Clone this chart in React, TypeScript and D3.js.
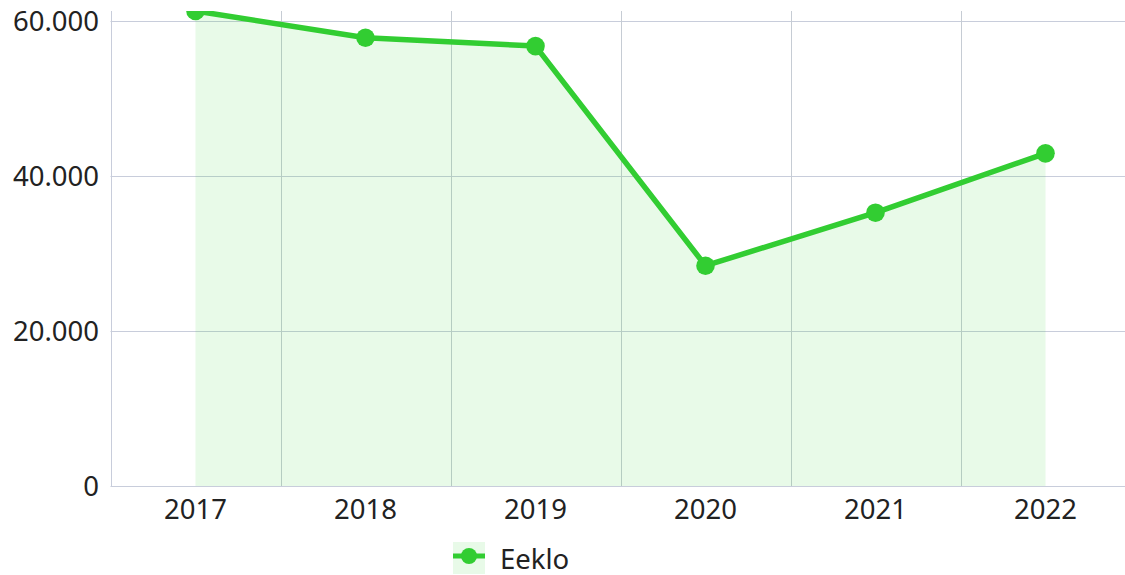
import React from 'react';
import * as d3 from 'd3';

const years = ['2017', '2018', '2019', '2020', '2021', '2022'];
const eeklo = [61300, 57850, 56770, 28430, 35270, 42930];
const yTicks = [0, 20000, 40000, 60000];
const seriesName = 'Eeklo';

const W = 1125;
const H = 575;
const left = 110.5;
const top = 11;
const bottom = 486;
const bandW = 170;

const green = '#32cd32';
const fillGreen = 'rgba(50, 205, 50, 0.11)';
const gridColor = '#c8cddb';
const font = '"Noto Sans", "Open Sans", sans-serif';

const fmt = (v: number) => d3.format(',')(v).replace(/,/g, '.');

const App: React.FC = () => {
  const x = d3.scaleBand<string>().domain(years).range([left, left + bandW * years.length]);
  const y = d3.scaleLinear().domain([0, d3.max(eeklo) as number]).range([bottom, top]);
  const cx = (i: number) => (x(years[i]) as number) + x.bandwidth() / 2;

  const line = d3.line<number>().x((_, i) => cx(i)).y(d => y(d));
  const area = d3.area<number>().x((_, i) => cx(i)).y0(bottom).y1(d => y(d));

  return (
    <svg width={W} height={H} style={{ position: 'absolute', left: 0, top: 0, background: '#fff' }}>
      <defs>
        <clipPath id="plot-clip">
          <rect x={left} y={top} width={W - left} height={bottom - top + 10} />
        </clipPath>
      </defs>

      {/* grid */}
      {yTicks.map(t => (
        <line key={t} x1={left} x2={W} y1={Math.round(y(t)) + 0.5} y2={Math.round(y(t)) + 0.5} stroke={gridColor} />
      ))}
      {years.map((yr, i) => (
        <line key={yr} x1={Math.round(x(yr) as number) + 0.5} x2={Math.round(x(yr) as number) + 0.5} y1={top} y2={bottom}
          stroke={i === 0 ? gridColor : '#c6ccd4'} />
      ))}

      <g clipPath="url(#plot-clip)">
        <path d={area(eeklo) as string} fill={fillGreen} />
        <path d={line(eeklo) as string} fill="none" stroke={green} strokeWidth={5.5} strokeLinejoin="round" />
        {eeklo.map((v, i) => (
          <circle key={i} cx={cx(i)} cy={y(v)} r={9.3} fill={green} />
        ))}
      </g>

      {/* y labels */}
      {yTicks.map(t => (
        <text key={t} x={99} y={y(t) + 10} textAnchor="end" fontFamily={font} fontSize={27.5} fill="#222">
          {fmt(t)}
        </text>
      ))}

      {/* x labels */}
      {years.map((yr, i) => (
        <text key={yr} x={cx(i)} y={519} textAnchor="middle" fontFamily={font} fontSize={27.5} fill="#222">
          {yr}
        </text>
      ))}

      {/* legend */}
      <g>
        <rect x={453} y={542} width={32} height={32} fill={fillGreen} />
        <line x1={453} x2={485} y1={556} y2={556} stroke={green} strokeWidth={5} />
        <circle cx={469} cy={556} r={8} fill={green} />
        <text x={500} y={569} fontFamily={font} fontSize={27.5} fill="#222">{seriesName}</text>
      </g>
    </svg>
  );
};

export default App;
